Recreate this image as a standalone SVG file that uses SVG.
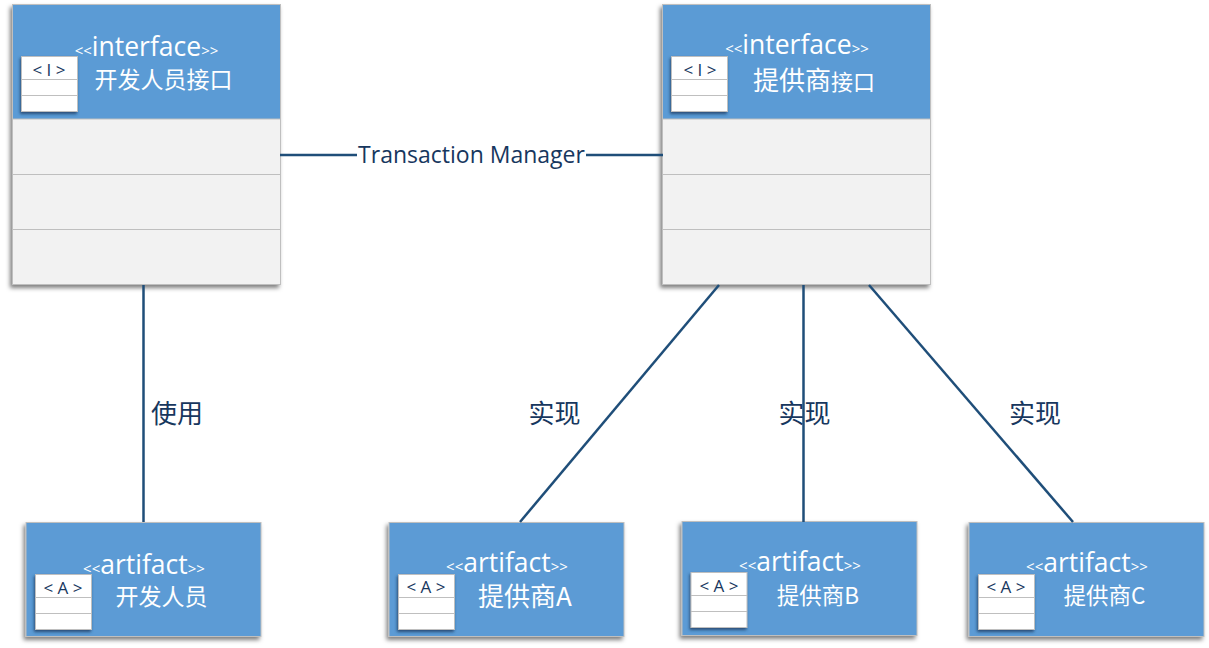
<svg xmlns="http://www.w3.org/2000/svg" width="1209" height="648" viewBox="0 0 1209 648">
<defs>
<filter id="sh" x="-10%" y="-10%" width="120%" height="120%"><feDropShadow dx="-2" dy="3" stdDeviation="2" flood-color="#000" flood-opacity="0.5"/></filter>
<filter id="shs" x="-20%" y="-20%" width="150%" height="150%"><feDropShadow dx="-1" dy="2" stdDeviation="1.5" flood-color="#1f3f66" flood-opacity="0.85"/></filter>
</defs>
<style>
text{font-family:"Open Sans","Noto Sans CJK SC",sans-serif}
.cn{font-family:"Noto Sans CJK SC",sans-serif}
.st{fill:#fff;text-anchor:middle}
.sm{font-size:15px}
.big{font-size:26.500px}
.lbl{fill:#17375e;font-size:26px;text-anchor:middle}
.blue{fill:#5b9bd5;stroke:#bfbfbf;stroke-width:1}
.body{fill:#f2f2f2;stroke:#bfbfbf;stroke-width:1}
.div{stroke:#bfbfbf;stroke-width:1;fill:none}
.ico{fill:#fff;stroke:#bfbfbf;stroke-width:1}
.ict{fill:#17375e;font-size:17px;text-anchor:middle}
.c{stroke:#1f4e79;stroke-width:2.500;fill:none}
</style>
<g id="iface-dev">
<rect x="12.500" y="4.500" width="268" height="280" class="body" filter="url(#sh)"/>
<rect x="12.500" y="4.500" width="268" height="114.500" class="blue"/>
<path class="div" d="M12.500 174.500H280.500M12.500 229.500H280.500"/>
<text class="st" y="55.500" x="146.500"><tspan class="sm">&lt;&lt;</tspan><tspan class="big">interface</tspan><tspan class="sm">&gt;&gt;</tspan></text>
<text class="st cn" x="163.500" y="88" font-size="23">开发人员接口</text>
<g id="iface-dev-icon"><rect x="21.500" y="56.500" width="56" height="55" class="ico" filter="url(#shs)"/><path class="div" d="M21.500 79.500H77.500M21.500 95.500H77.500"/><text class="ict" x="49" y="75.500">&lt; I &gt;</text></g>
</g>
<g id="iface-vendor">
<rect x="662.500" y="4.500" width="268" height="280" class="body" filter="url(#sh)"/>
<rect x="662.500" y="4.500" width="268" height="114.500" class="blue"/>
<path class="div" d="M662.500 174.500H930.500M662.500 229.500H930.500"/>
<text class="st" y="53.500" x="797"><tspan class="sm">&lt;&lt;</tspan><tspan class="big">interface</tspan><tspan class="sm">&gt;&gt;</tspan></text>
<text class="st cn" x="814" y="90" font-size="25"><tspan font-size="26">提供商</tspan><tspan font-size="22">接口</tspan></text>
<g id="iface-vendor-icon"><rect x="671.500" y="56.500" width="56" height="55" class="ico" filter="url(#shs)"/><path class="div" d="M671.500 79.500H727.500M671.500 95.500H727.500"/><text class="ict" x="700" y="75.500">&lt; I &gt;</text></g>
</g>
<g id="art-dev">
<rect x="26" y="522.500" width="235" height="114" class="blue" filter="url(#sh)"/>
<text class="st" y="573.500" x="144"><tspan class="sm">&lt;&lt;</tspan><tspan class="big">artifact</tspan><tspan class="sm">&gt;&gt;</tspan></text>
<text class="st cn" x="161.500" y="605" font-size="23">开发人员</text>
<g id="art-dev-icon"><rect x="35.500" y="574.500" width="56" height="55" class="ico" filter="url(#shs)"/><path class="div" d="M35.500 597.500H91.500M35.500 613.500H91.500"/><text class="ict" x="63" y="593.500">&lt; A &gt;</text></g>
</g>
<g id="art-a">
<rect x="389" y="522.500" width="235" height="114" class="blue" filter="url(#sh)"/>
<text class="st" y="571.500" x="507"><tspan class="sm">&lt;&lt;</tspan><tspan class="big">artifact</tspan><tspan class="sm">&gt;&gt;</tspan></text>
<text class="st cn" x="525" y="606" font-size="26">提供商A</text>
<g id="art-a-icon"><rect x="398.500" y="574.500" width="56" height="55" class="ico" filter="url(#shs)"/><path class="div" d="M398.500 597.500H454.500M398.500 613.500H454.500"/><text class="ict" x="426" y="592.500">&lt; A &gt;</text></g>
</g>
<g id="art-b">
<rect x="682" y="521.500" width="235" height="114" class="blue" filter="url(#sh)"/>
<text class="st" y="570.500" x="800"><tspan class="sm">&lt;&lt;</tspan><tspan class="big">artifact</tspan><tspan class="sm">&gt;&gt;</tspan></text>
<text class="st cn" x="818" y="604" font-size="22.500">提供商B</text>
<g id="art-b-icon"><rect x="691" y="572.500" width="56" height="55" class="ico" filter="url(#shs)"/><path class="div" d="M691 595.500H747M691 611.500H747"/><text class="ict" x="719" y="591.500">&lt; A &gt;</text></g>
</g>
<g id="art-c">
<rect x="969" y="522.500" width="235" height="114" class="blue" filter="url(#sh)"/>
<text class="st" y="571.500" x="1087"><tspan class="sm">&lt;&lt;</tspan><tspan class="big">artifact</tspan><tspan class="sm">&gt;&gt;</tspan></text>
<text class="st cn" x="1104.500" y="604" font-size="22.500">提供商C</text>
<g id="art-c-icon"><rect x="978.500" y="574.500" width="56" height="55" class="ico" filter="url(#shs)"/><path class="div" d="M978.500 597.500H1034.500M978.500 613.500H1034.500"/><text class="ict" x="1006" y="592.500">&lt; A &gt;</text></g>
</g>
<g id="connectors">
<line class="c" x1="280" y1="155" x2="357" y2="155"/>
<line class="c" x1="586" y1="155" x2="663" y2="155"/>
<line class="c" x1="143.500" y1="285" x2="143.500" y2="522"/>
<line class="c" x1="719" y1="285" x2="520" y2="522"/>
<line class="c" x1="803.500" y1="285" x2="803.500" y2="522"/>
<line class="c" x1="869" y1="285" x2="1073" y2="522"/>
</g>
<text class="lbl" x="471.500" y="163" style="font-size:23px">Transaction Manager</text>
<text class="lbl cn" x="177" y="423">使用</text>
<text class="lbl cn" x="554.500" y="423">实现</text>
<text class="lbl cn" x="804.500" y="423">实现</text>
<text class="lbl cn" x="1035" y="423">实现</text>
</svg>
